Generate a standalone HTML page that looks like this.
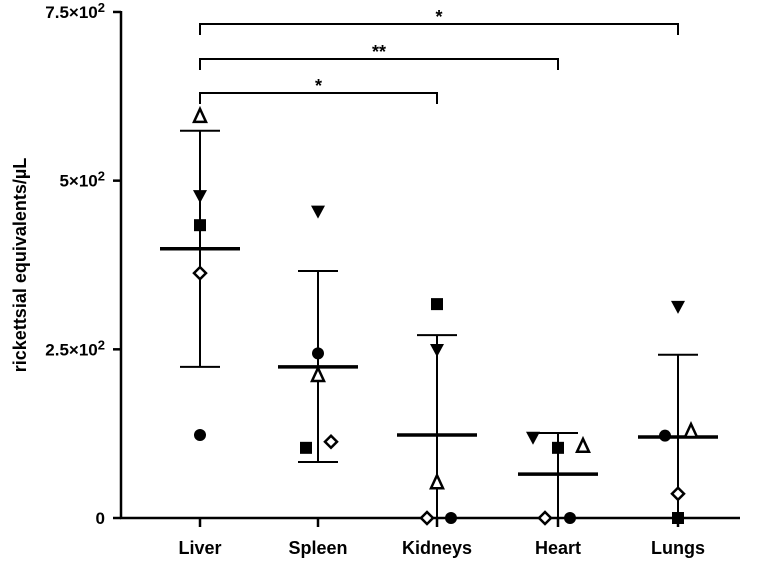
<!DOCTYPE html>
<html><head><meta charset="utf-8"><style>
body{margin:0;background:#fff}
svg text{font-family:"Liberation Sans",Arial,sans-serif;font-weight:bold;fill:#000}
</style></head><body>
<svg id="chart" width="762" height="561" xmlns="http://www.w3.org/2000/svg"></svg>
<script>
const categories=["Liver","Spleen","Kidneys","Heart","Lungs"];
const triUp=[596,212,53,107,129];
const triDown=[477,454,249,119,313];
const squares=[434,104,317,104,0];
const diamonds=[363,113,0,0,36];
const circles=[123,244,0,0,122];
const means=[399,224,123,65,120];
const errTop=[574,366,271,126,242];
const errBot=[224,83,0,0,0];
const yTicks=[0,250,500,750];
const yTickMant=["0","2.5×10","5×10","7.5×10"];
const NS="http://www.w3.org/2000/svg";
const svg=document.getElementById('chart');
const xs=[200,318,437,558,678];
const X=i=>xs[i];
const Y=v=>518-v*0.6747;
function mk(t,a){const e=document.createElementNS(NS,t);for(const k in a)e.setAttribute(k,a[k]);svg.appendChild(e);return e;}
let e=mk('line',{x1:121,y1:11,x2:121,y2:519,stroke:'#000','stroke-width':2.5});


e=mk('line',{x1:120,y1:518,x2:740,y2:518,stroke:'#000','stroke-width':2.5});


yTicks.forEach((v,i)=>{
  mk('line',{x1:113,y1:Y(v),x2:121,y2:Y(v),stroke:'#000','stroke-width':2.5});
  const t=mk('text',{x:105,y:Y(v)+6,'text-anchor':'end','font-size':17});
  
  
  const a=document.createElementNS(NS,'tspan');a.textContent=yTickMant[i];t.appendChild(a);
  if(v!==0){const s=document.createElementNS(NS,'tspan');s.setAttribute('dy','-6');s.setAttribute('font-size','13');s.textContent='2';t.appendChild(s);}
});
const yt=mk('text',{x:0,y:0,'text-anchor':'middle','font-size':18,transform:'translate(26,265) rotate(-90)'});
yt.textContent='rickettsial equivalents/µL';


categories.forEach((c,i)=>{
  const x=X(i);
  mk('line',{x1:x,y1:518,x2:x,y2:527,stroke:'#000','stroke-width':2.5});
  const t=mk('text',{x:x,y:554,'text-anchor':'middle','font-size':18});
  t.textContent=c;
  
  
  const g=mk('g',{stroke:'#000','stroke-width':2});
  
  
  const ln=(a)=>{const l=document.createElementNS(NS,'line');for(const k in a)l.setAttribute(k,a[k]);g.appendChild(l);};
  ln({x1:x,y1:Y(errTop[i]),x2:x,y2:Y(errBot[i])});
  ln({x1:x-20,y1:Y(errTop[i]),x2:x+20,y2:Y(errTop[i])});
  ln({x1:x-20,y1:Y(errBot[i]),x2:x+20,y2:Y(errBot[i])});
  const m=mk('line',{x1:x-40,y1:Y(means[i]),x2:x+40,y2:Y(means[i]),stroke:'#000','stroke-width':3.5});
  
  
});
const off={dia:[0,13,-10,-13,0],cir:[0,0,14,12,-13],triU:[0,0,0,25,13],triD:[0,0,0,-25,0],sq:[0,-12,0,0,0]};
function pt(shape,i,v,dx){
  const x=X(i)+dx,y=Y(v);let el;
  if(shape==='cir')el=mk('circle',{cx:x,cy:y,r:6,fill:'#000'});
  else if(shape==='sq')el=mk('rect',{x:x-6,y:y-6,width:12,height:12,fill:'#000'});
  else if(shape==='triD')el=mk('polygon',{points:`${x-7},${y-6} ${x+7},${y-6} ${x},${y+7}`,fill:'#000'});
  else if(shape==='triU')el=mk('polygon',{points:`${x-6},${y+6} ${x+6},${y+6} ${x},${y-7}`,fill:'#fff',stroke:'#000','stroke-width':2.5});
  else el=mk('polygon',{points:`${x},${y-6} ${x+6},${y} ${x},${y+6} ${x-6},${y}`,fill:'#fff',stroke:'#000','stroke-width':2.5});
  
  
}
categories.forEach((c,i)=>{
  pt('triD',i,triDown[i],off.triD[i]);
  pt('sq',i,squares[i],off.sq[i]);
  pt('cir',i,circles[i],off.cir[i]);
  pt('triU',i,triUp[i],off.triU[i]);
  pt('dia',i,diamonds[i],off.dia[i]);
});
const brackets=[[0,4,24,'*'],[0,3,59,'**'],[0,2,93,'*']];
brackets.forEach(b=>{
  const x1=X(b[0]),x2=X(b[1]),y=b[2];
  const p=mk('path',{d:`M${x1},${y+11} V${y} H${x2} V${y+11}`,fill:'none',stroke:'#000','stroke-width':2});
  
  
  const t=mk('text',{x:(x1+x2)/2,y:y-1,'text-anchor':'middle','font-size':18});
  t.textContent=b[3];
  
  
});
</script>
</body></html>
